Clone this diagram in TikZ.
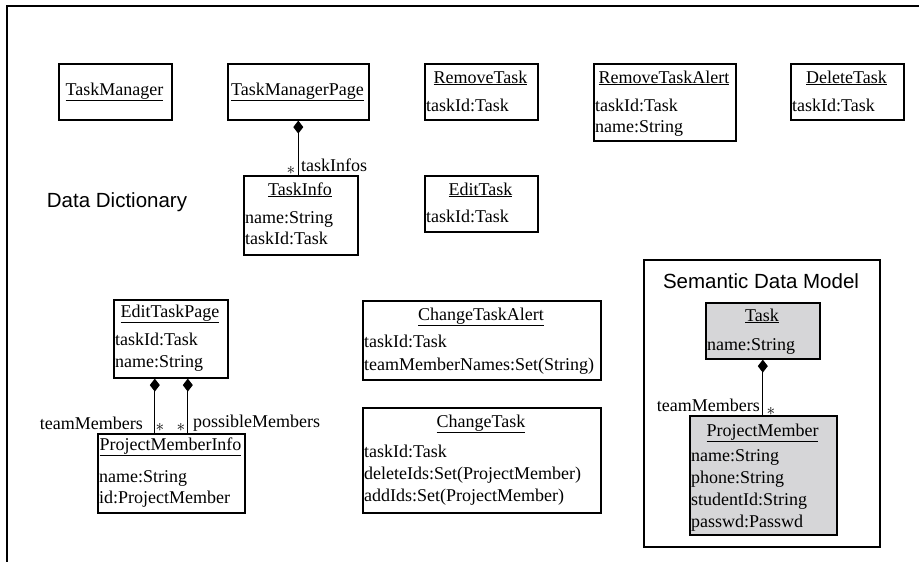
\documentclass[tikz,border=0pt]{standalone}
\usepackage{fontspec}
\setmainfont{Liberation Serif}
\setsansfont{Liberation Sans}
\usepackage{tikz}
\usetikzlibrary{arrows.meta}
\definecolor{boxgray}{RGB}{214,214,216}

\begin{document}
\begin{tikzpicture}[x=1pt,y=-1pt,
    classbox/.style={draw,line width=1.6pt,rectangle,inner sep=0pt,anchor=north west},
    graybox/.style={classbox,fill=boxgray},
    title/.style={inner sep=0pt,text height=12pt,text depth=4pt,font=\fontsize{18}{21}\selectfont},
    attr/.style={inner sep=0pt,anchor=west,text height=12pt,text depth=3.5pt,font=\fontsize{18}{21}\selectfont},
    comp/.style={line width=1.1pt,{Diamond[length=13pt,width=10pt]}-},
    lbl/.style={inner sep=0pt,font=\fontsize{18}{21}\selectfont},
    heading/.style={inner sep=0pt,font=\sffamily\fontsize{20.5}{24}\selectfont}]
        \useasboundingbox (0,0) rectangle (919,562);
        \draw[line width=1.8pt] (7,562) -- (7,6) -- (919,6);

        \node[heading] (dd) at (117,202) {Data Dictionary};

        % top row
        \node[classbox,minimum width=113,minimum height=56] (tm) at (58,63) {};
        \node[title] (tmT) at (114.5,91) {\underline{TaskManager}};

        \node[classbox,minimum width=141,minimum height=56] (tmp) at (227,63) {};
        \node[title] (tmpT) at (297.5,91) {\underline{TaskManagerPage}};

        \node[classbox,minimum width=113,minimum height=56] (rt) at (424,63) {};
        \node[title] (rtT) at (480.5,79) {\underline{RemoveTask}};
        \node[attr] (rtA) at (426,107) {taskId:Task};

        \node[classbox,minimum width=142,minimum height=77] (rta) at (593,63) {};
        \node[title] (rtaT) at (664,79) {\underline{RemoveTaskAlert}};
        \node[attr] (rtaA) at (595,107) {taskId:Task};
        \node[attr] (rtaB) at (595,128) {name:String};

        \node[classbox,minimum width=113,minimum height=56] (dt) at (790,63) {};
        \node[title] (dtT) at (846.5,79) {\underline{DeleteTask}};
        \node[attr] (dtA) at (792,107) {taskId:Task};

        % second row
        \node[classbox,minimum width=114,minimum height=79] (ti) at (243,175) {};
        \node[title] (tiT) at (300,191) {\underline{TaskInfo}};
        \node[attr] (tiA) at (245,219) {name:String};
        \node[attr] (tiB) at (245,240) {taskId:Task};

        \node[classbox,minimum width=113,minimum height=56] (et) at (424,175) {};
        \node[title] (etT) at (480.5,191) {\underline{EditTask}};
        \node[attr] (etA) at (426,218) {taskId:Task};

        \draw[comp] (tmp.south) -- (tmp.south |- ti.north);
        \node[lbl] (tiS) at (291,170) {$*$};
        \node[lbl,anchor=west] (tiL) at (301,165) {taskInfos};

        % lower left
        \node[classbox,minimum width=114,minimum height=78] (etp) at (113,299) {};
        \node[title] (etpT) at (170,313) {\underline{EditTaskPage}};
        \node[attr] (etpA) at (115,341) {taskId:Task};
        \node[attr] (etpB) at (115,363) {name:String};

        \node[classbox,minimum width=147,minimum height=79] (pmi) at (97,433) {};
        \node[title] (pmiT) at (170.5,446) {\underline{ProjectMemberInfo}};
        \node[attr] (pmiA) at (99,478) {name:String};
        \node[attr] (pmiB) at (99,499) {id:ProjectMember};

        \draw[comp] ([xshift=-16pt]etp.south) -- ([xshift=-16pt]etp.south |- pmi.north);
        \draw[comp] ([xshift=17pt]etp.south) -- ([xshift=17pt]etp.south |- pmi.north);
        \node[lbl,anchor=east] (tmL) at (143,423) {teamMembers};
        \node[lbl] (tmS) at (160,427) {$*$};
        \node[lbl] (pmS) at (181,427) {$*$};
        \node[lbl,anchor=west] (pmL) at (193,423) {possibleMembers};

        % lower middle
        \node[classbox,minimum width=238,minimum height=79] (cta) at (362,300) {};
        \node[title] (ctaT) at (481,316) {\underline{ChangeTaskAlert}};
        \node[attr] (ctaA) at (364,343) {taskId:Task};
        \node[attr] (ctaB) at (364,366) {teamMemberNames:Set(String)};

        \node[classbox,minimum width=238,minimum height=105] (ct) at (362,407) {};
        \node[title] (ctT) at (481,423) {\underline{ChangeTask}};
        \node[attr] (ctA) at (364,453) {taskId:Task};
        \node[attr] (ctB) at (364,475) {deleteIds:Set(ProjectMember)};
        \node[attr] (ctC) at (364,497) {addIds:Set(ProjectMember)};

        % semantic data model
        \node[classbox,minimum width=236,minimum height=287] (sdm) at (643,259) {};
        \node[heading] (sdmT) at (761,281) {Semantic Data Model};

        \node[graybox,minimum width=114,minimum height=56] (task) at (705,302) {};
        \node[title] (taskT) at (762,317) {\underline{Task}};
        \node[attr] (taskA) at (707,346) {name:String};

        \node[graybox,minimum width=147,minimum height=119] (pm) at (689,415) {};
        \node[title] (pmT) at (762.5,432) {\underline{ProjectMember}};
        \node[attr] (pmA) at (691,457) {name:String};
        \node[attr] (pmB) at (691,479) {phone:String};
        \node[attr] (pmC) at (691,501) {studentId:String};
        \node[attr] (pmD) at (691,523) {passwd:Passwd};

        \draw[comp] (task.south) -- (task.south |- pm.north);
        \node[lbl,anchor=east] (pmtL) at (760,405) {teamMembers};
        \node[lbl] (pmtS) at (771,411) {$*$};
    \end{tikzpicture}
\end{document}
